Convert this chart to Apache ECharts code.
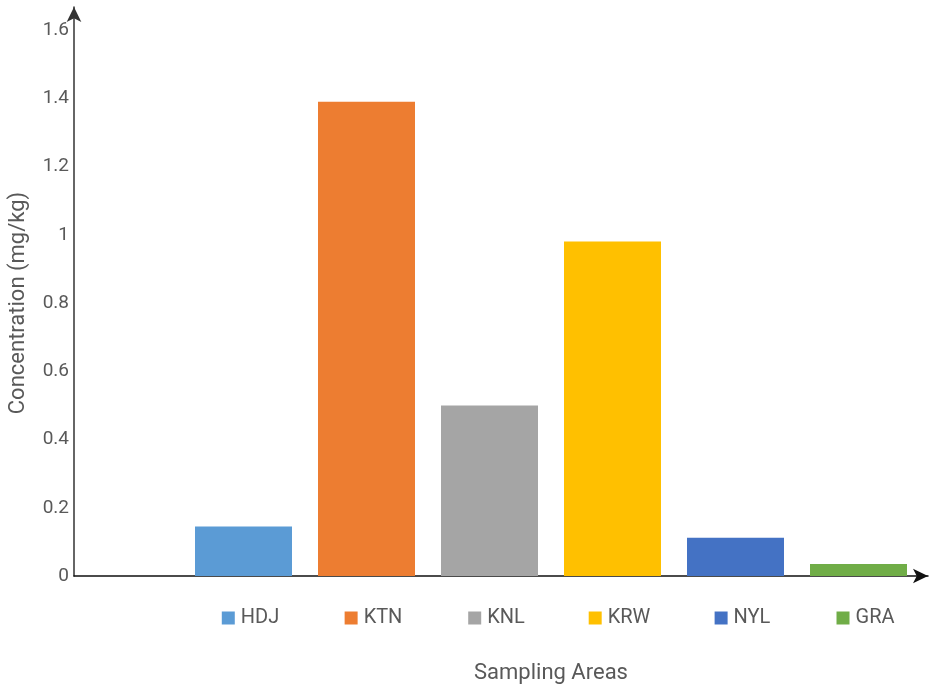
<!DOCTYPE html>
<html>
<head>
<meta charset="utf-8">
<script src="https://cdn.jsdelivr.net/npm/echarts@6/dist/echarts.min.js"></script>
<style>
  html, body { margin: 0; padding: 0; background: #fff; }
  #chart { width: 929px; height: 690px; }
</style>
</head>
<body>
<div id="chart"></div>
<script>
// Sampling areas and measured concentrations (mg/kg)
const areas = ['HDJ', 'KTN', 'KNL', 'KRW', 'NYL', 'GRA'];
const concentration = [0.145, 1.39, 0.5, 0.98, 0.112, 0.035];
const areaColors = ['#5B9BD5', '#ED7D31', '#A5A5A5', '#FFC000', '#4472C4', '#70AD47'];
const yTicks = { min: 0, max: 1.6, interval: 0.2 };

const textColor = '#595959';
const font = 'Roboto, "Noto Sans", sans-serif';

// rich styles: one colored square per area, drawn as a key under each bar
const rich = { t: { color: textColor, fontSize: 20, fontFamily: font, padding: [0, 0, 0, 6] } };
areaColors.forEach((c, i) => {
  rich['s' + i] = { backgroundColor: c, width: 13, height: 13 };
});

const chart = echarts.init(document.getElementById('chart'), null, { renderer: 'canvas' });
chart.setOption({
  animation: false,
  backgroundColor: '#fff',
  grid: [
    // frame with arrowed axes
    { left: 74, top: 7, right: 1, bottom: 114, containLabel: false, outerBoundsMode: 'none' },
    // plotting area for the bars
    { left: 182, top: 30, right: 9, bottom: 114, containLabel: false, outerBoundsMode: 'none' }
  ],
  xAxis: [
    {
      gridIndex: 0, type: 'value', min: 0, max: 1,
      axisLine: { show: true, symbol: ['none', 'arrow'], symbolSize: [11, 15], lineStyle: { color: '#111', width: 1.5 } },
      axisTick: { show: false }, axisLabel: { show: false }, splitLine: { show: false }
    },
    {
      gridIndex: 1, type: 'category', data: areas,
      axisLine: { show: false }, axisTick: { show: false }, splitLine: { show: false },
      axisLabel: {
        margin: 32,
        padding: [0, 0, 0, 14],
        formatter: (v, i) => `{s${i}|}{t|${v}}`,
        rich: rich
      },
      name: 'Sampling Areas', nameLocation: 'middle', nameGap: 86,
      nameTextStyle: { color: textColor, fontSize: 22, fontFamily: font }
    }
  ],
  yAxis: [
    {
      gridIndex: 0, type: 'value', min: 0, max: 1,
      axisLine: { show: true, symbol: ['none', 'arrow'], symbolSize: [11, 15], lineStyle: { color: '#333', width: 1.5 } },
      axisTick: { show: false }, axisLabel: { show: false }, splitLine: { show: false }
    },
    {
      gridIndex: 1, type: 'value', min: yTicks.min, max: yTicks.max, interval: yTicks.interval,
      offset: 108,
      axisLine: { show: false }, axisTick: { show: false }, splitLine: { show: false },
      axisLabel: {
        color: textColor, fontSize: 19, fontFamily: font, margin: 5,
        formatter: v => String(Math.round(v * 10) / 10)
      },
      name: 'Concentration (mg/kg)', nameLocation: 'middle', nameGap: 45, nameRotate: 90,
      nameTextStyle: { color: textColor, fontSize: 22, fontFamily: font }
    }
  ],
  series: [{
    type: 'bar',
    xAxisIndex: 1, yAxisIndex: 1,
    barWidth: 97,
    data: concentration.map((v, i) => ({ value: v, itemStyle: { color: areaColors[i] } }))
  }]
});
</script>
</body>
</html>
